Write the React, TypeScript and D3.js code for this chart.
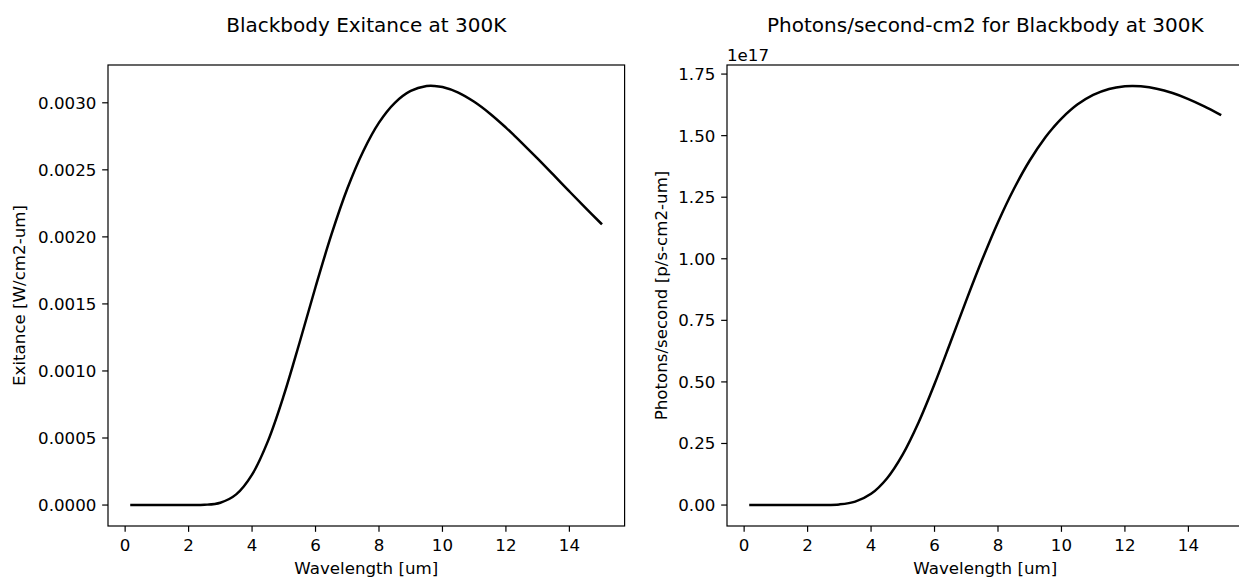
import React from "react";
import * as d3 from "d3";

// Wavelength samples [um]
const wavelengths = [0.2, 1, 2, 2.5, 3, 3.5, 4, 4.5, 5, 5.5, 6, 6.5, 7, 7.5, 8, 8.5, 9, 9.5, 9.75, 10, 10.5, 11, 11.5, 12, 12.25, 12.5, 13, 13.5, 14, 14.5, 15];
// Exitance [W/cm2-um]
const exitance = [0, 0, 0.00000005, 0.0000018, 0.0000176, 0.0000797, 0.0002268, 0.0004768, 0.0008176, 0.0012142, 0.0016261, 0.0020163, 0.0023587, 0.0026372, 0.0028519, 0.0029995, 0.0030881, 0.0031245, 0.0031256, 0.0031174, 0.0030761, 0.0030072, 0.0029186, 0.0028151, 0.0027595, 0.0027019, 0.0025834, 0.0024616, 0.0023391, 0.002218, 0.0020998];
// Photons/second [p/s-cm2-um], in units of 1e17
const photons = [0, 0, 0.0000045, 0.000225, 0.002652, 0.014043, 0.04567, 0.10801, 0.20579, 0.33618, 0.49116, 0.65976, 0.83118, 0.9957, 1.14853, 1.2835, 1.39914, 1.49425, 1.53404, 1.56933, 1.62597, 1.66524, 1.68964, 1.70058, 1.70175, 1.7002, 1.69069, 1.67291, 1.64853, 1.61903, 1.58559];

const xTicks = [0, 2, 4, 6, 8, 10, 12, 14];
const leftYTicks = [0, 0.0005, 0.001, 0.0015, 0.002, 0.0025, 0.003];
const rightYTicks = [0, 0.25, 0.5, 0.75, 1.0, 1.25, 1.5, 1.75];

const titles = ["Blackbody Exitance at 300K", "Photons/second-cm2 for Blackbody at 300K"];
const yLabels = ["Exitance [W/cm2-um]", "Photons/second [p/s-cm2-um]"];
const xLabel = "Wavelength [um]";

const FONT = "DejaVu Sans";
const TICK_FS = 16.67;
const TITLE_FS = 20;

type PanelProps = {
  left: number;
  width: number;
  ys: number[];
  yTicks: number[];
  fmt: (v: number) => string;
  title: string;
  yLabel: string;
  yLabelX: number;
  offsetText?: string;
};

const TOP = 65;
const BOTTOM = 526;

function Panel({ left, width, ys, yTicks, fmt, title, yLabel, yLabelX, offsetText }: PanelProps) {
  const xmin = d3.min(wavelengths)!;
  const xmax = d3.max(wavelengths)!;
  const xpad = (xmax - xmin) * 0.05;
  const x = d3.scaleLinear().domain([xmin - xpad, xmax + xpad]).range([left, left + width]);
  const ymin = d3.min(ys)!;
  const ymax = d3.max(ys)!;
  const ypad = (ymax - ymin) * 0.05;
  const y = d3.scaleLinear().domain([ymin - ypad, ymax + ypad]).range([BOTTOM, TOP]);
  const line = d3
    .line<number>()
    .x((_, i) => x(wavelengths[i]))
    .y((d) => y(d))
    .curve(d3.curveCatmullRom.alpha(0.5));
  const tickLen = 5.83;
  const cx = left + width / 2;
  const cy = (TOP + BOTTOM) / 2;
  return (
    <g fontFamily={FONT} fill="#000">
      <text x={cx} y={32} fontSize={TITLE_FS} textAnchor="middle">{title}</text>
      {offsetText && (
        <text x={left} y={61} fontSize={TICK_FS}>{offsetText}</text>
      )}
      <path d={line(ys) || ""} fill="none" stroke="#000" strokeWidth={2.5} strokeLinejoin="round" strokeLinecap="square" />
      <rect x={left} y={TOP} width={width} height={BOTTOM - TOP} fill="none" stroke="#000" strokeWidth={1.2} />
      {xTicks.map((t) => (
        <g key={"x" + t}>
          <line x1={x(t)} x2={x(t)} y1={BOTTOM} y2={BOTTOM + tickLen} stroke="#000" strokeWidth={1.2} />
          <text x={x(t)} y={551} fontSize={TICK_FS} textAnchor="middle">{t}</text>
        </g>
      ))}
      {yTicks.map((t) => (
        <g key={"y" + t}>
          <line x1={left - tickLen} x2={left} y1={y(t)} y2={y(t)} stroke="#000" strokeWidth={1.2} />
          <text x={left - tickLen - 5.83} y={y(t)} dy="0.36em" fontSize={TICK_FS} textAnchor="end">{fmt(t)}</text>
        </g>
      ))}
      <text x={cx} y={574} fontSize={TICK_FS} textAnchor="middle">{xLabel}</text>
      <text transform={`translate(${yLabelX},${cy}) rotate(-90)`} fontSize={TICK_FS} textAnchor="middle">{yLabel}</text>
    </g>
  );
}

export default function App() {
  const f4 = d3.format(".4f");
  const f2 = d3.format(".2f");
  return (
    <div style={{ position: "fixed", left: 0, top: 0, width: 1239, height: 577, background: "#fff" }}>
      <svg width={1239} height={577} style={{ display: "block" }}>
        <rect width={1239} height={577} fill="#fff" />
        <Panel left={108} width={516.6} ys={exitance} yTicks={leftYTicks} fmt={f4} title={titles[0]} yLabel={yLabels[0]} yLabelX={25} />
        <Panel left={727} width={516.6} ys={photons} yTicks={rightYTicks} fmt={f2} title={titles[1]} yLabel={yLabels[1]} yLabelX={667} offsetText="1e17" />
      </svg>
    </div>
  );
}
